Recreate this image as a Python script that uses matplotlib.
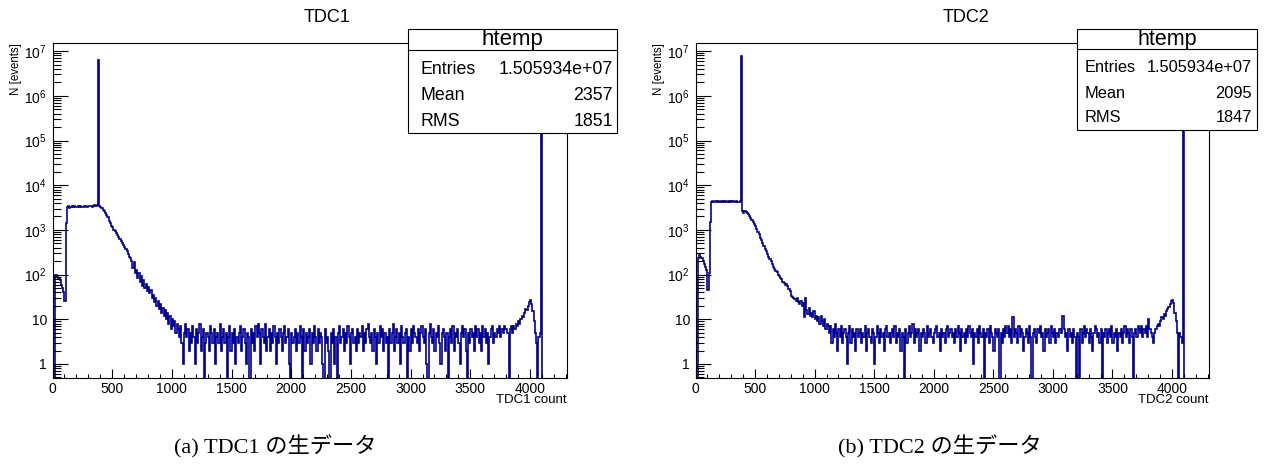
import numpy as np
import matplotlib
matplotlib.use("Agg")
import matplotlib.pyplot as plt
from matplotlib.patches import Rectangle
from matplotlib.lines import Line2D
from matplotlib.ticker import LogLocator, FuncFormatter, NullFormatter, MultipleLocator

# ---------------- data (bin width 10 TDC counts, bins start at 0) ----------------
bin_width = 10

# TDC1
tdc1_low = [0, 0, 98, 100, 90, 85, 75, 60, 50, 40, 26, 1400]            # bins 0-11
tdc1_plateau = [3200, 3350, 3150, 3300, 3400, 3250, 3350, 3200, 3300, 3450,
                3250, 3350, 3300, 3200, 3400, 3350, 3250, 3300, 3400, 3350,
                3450, 3300, 3400, 3550, 3500, 3600]                        # bins 12-37
tdc1_peak = [6.3e6]                                                         # bin 38
tdc1_decay = [3500, 3300, 3150, 2800, 2650, 2400, 2150, 1900, 1600, 1450,
              1250, 1150, 1020, 930, 850, 760, 680, 630, 560, 510,
              470, 420, 370, 330, 290, 250, 230,
              200, 140, 190, 110, 130, 85, 110, 70, 92, 55,
              75, 50, 62, 44, 52, 38, 45, 30, 35, 24,
              30, 20, 26, 17, 22, 14, 18, 12, 16, 10,
              14, 8, 12, 6, 10, 7, 9, 5, 8]                                 # bins 39-104
tdc1_noise = [6, 4, 7, 3, 1, 5, 8, 4, 6, 2, 5, 3, 7, 4, 1, 6, 3, 5, 8, 2, 4, 6, 0, 3, 5,
              4, 2, 7, 5, 3, 6, 1, 4, 5, 3, 8, 2, 4, 6, 3, 5, 0, 4, 7, 2, 5, 3, 6, 1, 4,
              3, 5, 7, 2, 4, 6, 3, 1, 5, 4, 0, 6, 3, 5, 2, 7, 4, 8, 5, 1, 6, 4, 3, 8, 2,
              4, 6, 2, 5, 3, 7, 4, 1, 5, 3, 6, 4, 2, 5, 7, 3, 4, 6, 1, 0, 5, 3, 4, 6, 2,
              5, 3, 7, 4, 0, 6, 2, 5, 3, 4, 6, 1, 5, 3, 7, 4, 2, 6, 3, 5, 4, 1, 0, 6, 3,
              4, 2, 0, 5, 3, 6, 1, 4, 0, 5, 7, 3, 4, 6, 2, 5, 3, 7, 4, 1, 5, 6, 3, 4, 2,
              6, 3, 5, 4, 7, 2, 5, 3, 6, 8, 4, 3, 5, 2, 6, 4, 1, 5, 3, 7, 4, 6, 2, 5, 3,
              4, 0, 6, 3, 5, 8, 2, 4, 6, 3, 5, 1, 7, 4, 3, 5, 6, 0, 4, 2, 6, 3, 7, 5, 4,
              3, 6, 2, 5, 7, 4, 3, 6, 1, 0, 5, 8, 4, 3, 6, 2, 5, 4, 7, 3, 1, 5, 6, 4, 2,
              5, 0, 4, 6, 3, 7, 2, 5, 4, 6, 3, 1, 5, 7, 4, 6, 2, 0, 5, 3, 6, 4, 5, 2, 7,
              4, 6, 3, 5, 2, 7, 4, 6, 3, 5, 1, 4, 6, 7, 3, 5, 4, 6, 5, 7, 4, 6, 5, 7, 6]  # bins 105-379
tdc1_edge = [6, 5, 0, 6, 7, 5, 7, 6, 8, 7, 9, 8, 10, 12, 11, 14, 17, 16, 20, 24,
             27, 22, 15, 9, 5, 3, 0, 4, 5]                                  # bins 380-408
tdc1_overflow = [1.0e6]                                                     # bin 409
tdc1_tail = [0] * 20                                                        # bins 410-429

# TDC2
tdc2_low = [0, 0, 240, 270, 250, 230, 200, 170, 150, 125, 45, 110, 1500]    # bins 0-12
tdc2_plateau = [4300, 4450, 4250, 4400, 4350, 4200, 4450, 4300, 4350, 4250,
                4400, 4300, 4450, 4200, 4350, 4300, 4400, 4250, 4350, 4300,
                4200, 4400, 4300, 4250, 4350]                               # bins 13-37
tdc2_peak = [7.6e6]                                                         # bin 38
tdc2_decay = [2600, 2450, 2700, 2500, 2350, 2250, 2050, 1850, 1650, 1500,
              1350, 1200, 1050, 920, 800, 660, 580, 500, 430, 370,
              330, 290, 250, 220, 200, 175, 150, 135, 120, 112,
              100, 92, 85, 78, 70, 66, 60, 62, 55, 48,
              42, 34, 32, 30, 28, 26, 30, 24, 22, 26,
              20, 23, 11, 30, 16, 13, 18, 12, 14, 11,
              15, 10, 12, 9, 11, 8, 12, 9, 7, 10,
              6, 8, 7]                                                      # bins 39-111
tdc2_noise = [5, 7, 3, 6, 4, 8, 5, 2, 6, 4, 7, 3, 5, 6, 4, 1, 5, 7, 3, 6, 4, 5, 2, 6, 4, 5,
              6, 3, 5, 4, 7, 2, 5, 6, 4, 3, 6, 5, 1, 4, 7, 5, 3, 6, 4, 5, 2, 6, 7, 4, 5, 3,
              5, 6, 4, 7, 3, 5, 4, 6, 2, 5, 4, 0, 6, 3, 5, 7, 4, 5, 8, 3, 6, 4, 5, 6, 2, 5,
              4, 6, 5, 3, 7, 4, 5, 6, 4, 3, 5, 6, 7, 4, 5, 2, 6, 4, 5, 3, 6, 7, 4, 5, 6, 4,
              5, 3, 6, 4, 7, 5, 2, 6, 4, 5, 3, 6, 4, 7, 5, 4, 6, 1, 5, 4, 6, 3, 7, 5, 4, 6,
              0, 5, 4, 6, 3, 7, 5, 4, 2, 6, 5, 4, 6, 0, 5, 3, 6, 4, 7, 5, 7, 4, 6, 3, 11, 4,
              6, 5, 3, 7, 4, 6, 5, 2, 4, 6, 5, 3, 7, 4, 0, 5, 6, 4, 3, 6, 5, 7, 4, 5, 2, 6,
              4, 5, 6, 3, 7, 5, 4, 6, 3, 5, 4, 6, 6, 5, 12, 6, 4, 5, 2, 6, 4, 5, 3, 6, 4, 0,
              5, 4, 0, 6, 3, 5, 7, 4, 6, 5, 3, 6, 4, 2, 5, 7, 6, 4, 5, 3, 6, 0, 5, 4, 6, 3,
              5, 6, 4, 7, 3, 5, 4, 6, 2, 5, 4, 6, 3, 5, 7, 4, 6, 5, 3, 6, 4, 0, 5, 6, 4, 7]  # bins 112-371
tdc2_edge = [6, 5, 7, 4, 6, 5, 7, 4,
             10, 6, 5, 4, 3, 5, 6, 7, 8, 7,
             9, 11, 10, 13, 12, 15, 17, 19, 22, 26,
             27, 23, 14, 9, 5, 0, 5, 4, 3]                                  # bins 372-408
tdc2_overflow = [6.0e5]                                                     # bin 409
tdc2_tail = [0] * 20                                                        # bins 410-429

tdc1_counts = (tdc1_low + tdc1_plateau + tdc1_peak + tdc1_decay + tdc1_noise
               + tdc1_edge + tdc1_overflow + tdc1_tail)
tdc2_counts = (tdc2_low + tdc2_plateau + tdc2_peak + tdc2_decay + tdc2_noise
               + tdc2_edge + tdc2_overflow + tdc2_tail)

titles = ["TDC1", "TDC2"]
xlabels = ["TDC1 count", "TDC2 count"]
stats_entries = ["1.505934e+07", "1.505934e+07"]
stats_mean = ["2357", "2095"]
stats_rms = ["1851", "1847"]
captions = ["(a) TDC1 の生データ", "(b) TDC2 の生データ"]

# ---------------- style ----------------
plt.rcParams["font.family"] = ["Liberation Sans", "DejaVu Sans"]
plt.rcParams["mathtext.fontset"] = "custom"
plt.rcParams["mathtext.rm"] = "Liberation Sans"
plt.rcParams["mathtext.it"] = "Liberation Sans:italic"
plt.rcParams["mathtext.bf"] = "Liberation Sans:bold"
plt.rcParams["mathtext.default"] = "regular"

W, H = 1264, 467
fig = plt.figure(figsize=(W / 100, H / 100), dpi=100)


def fx(x):
    return x / W


def fy(y):
    return 1 - y / H


line_color = "#000099"

layout = [
    dict(ax=(52.5, 43, 567, 378), title=(327, 17), ylab=16, xlab=(567, 400),
         box=(408, 29, 617, 133), sep=50, head=(512.5, 40), rows=(70, 96, 121),
         lx=420, rx=613, fs_head=16, fs_row=12.8, cap=(275, 447)),
    dict(ax=(695.5, 43, 1209, 378), title=(966, 17), ylab=659, xlab=(1209, 400),
         box=(1077, 29, 1257, 130), sep=49, head=(1167, 40), rows=(68, 93, 117),
         lx=1085, rx=1252, fs_head=15.5, fs_row=11.8, cap=(940, 447)),
]


def yfmt(v, pos):
    if v <= 0:
        return ""
    e = int(round(np.log10(v)))
    if e == 0:
        return "1"
    if e == 1:
        return "10"
    return r"$10^{%d}$" % e


all_counts = [tdc1_counts, tdc2_counts]
for i, L in enumerate(layout):
    l, t, r, b = L["ax"]
    ax = fig.add_axes([fx(l), fy(b), fx(r) - fx(l), fy(t) - fy(b)])
    vals = np.asarray(all_counts[i], dtype=float)
    edges = np.arange(len(vals) + 1) * bin_width
    plot_vals = np.where(vals > 0, vals, 1e-3)
    ax.stairs(plot_vals, edges, baseline=None, color=line_color, lw=1.2)
    ax.set_yscale("log")
    ax.set_ylim(0.486, 1.52e7)
    ax.set_xlim(0, 4310)

    ax.xaxis.set_major_locator(MultipleLocator(500))
    ax.xaxis.set_minor_locator(MultipleLocator(100))
    ax.yaxis.set_major_locator(LogLocator(base=10, numticks=20))
    ax.yaxis.set_minor_locator(LogLocator(base=10, subs=np.arange(2, 10), numticks=20))
    ax.yaxis.set_major_formatter(FuncFormatter(yfmt))
    ax.yaxis.set_minor_formatter(NullFormatter())
    ax.tick_params(which="both", direction="in", top=False, right=False,
                   width=0.8, labelsize=10)
    ax.tick_params(axis="x", which="major", length=6.5, pad=3)
    ax.tick_params(axis="x", which="minor", length=3.2)
    ax.tick_params(axis="y", which="major", length=11, pad=4)
    ax.tick_params(axis="y", which="minor", length=5.5)
    for sp in ax.spines.values():
        sp.set_linewidth(0.8)

    fig.text(fx(L["title"][0]), fy(L["title"][1]), titles[i], ha="center",
             va="center", fontsize=13)
    fig.text(fx(L["ylab"]), fy(t), "N [events]", rotation=90, ha="center",
             va="top", fontsize=8.3)
    fig.text(fx(L["xlab"][0]), fy(L["xlab"][1]), xlabels[i], ha="right",
             va="center", fontsize=9.5)

    bx0, by0, bx1, by1 = L["box"]
    fig.add_artist(Rectangle((fx(bx0), fy(by1)), fx(bx1) - fx(bx0), fy(by0) - fy(by1),
                             transform=fig.transFigure, facecolor="white",
                             edgecolor="black", lw=0.8, zorder=5))
    fig.add_artist(Line2D([fx(bx0), fx(bx1)], [fy(L["sep"])] * 2,
                          transform=fig.transFigure, color="black", lw=0.8, zorder=6))
    fig.text(fx(L["head"][0]), fy(L["head"][1]), "htemp", ha="center", va="center",
             fontsize=L["fs_head"], zorder=7)
    rows = [("Entries", stats_entries[i]), ("Mean", stats_mean[i]), ("RMS", stats_rms[i])]
    for (lab, val), yy in zip(rows, L["rows"]):
        fig.text(fx(L["lx"]), fy(yy), lab, ha="left", va="center",
                 fontsize=L["fs_row"], zorder=7)
        fig.text(fx(L["rx"]), fy(yy), val, ha="right", va="center",
                 fontsize=L["fs_row"], zorder=7)

    fig.text(fx(L["cap"][0]), fy(L["cap"][1]), captions[i], ha="center", va="center",
             fontsize=16, family=["Liberation Serif", "Noto Sans CJK JP"])

fig.savefig("out.png", dpi=100)
